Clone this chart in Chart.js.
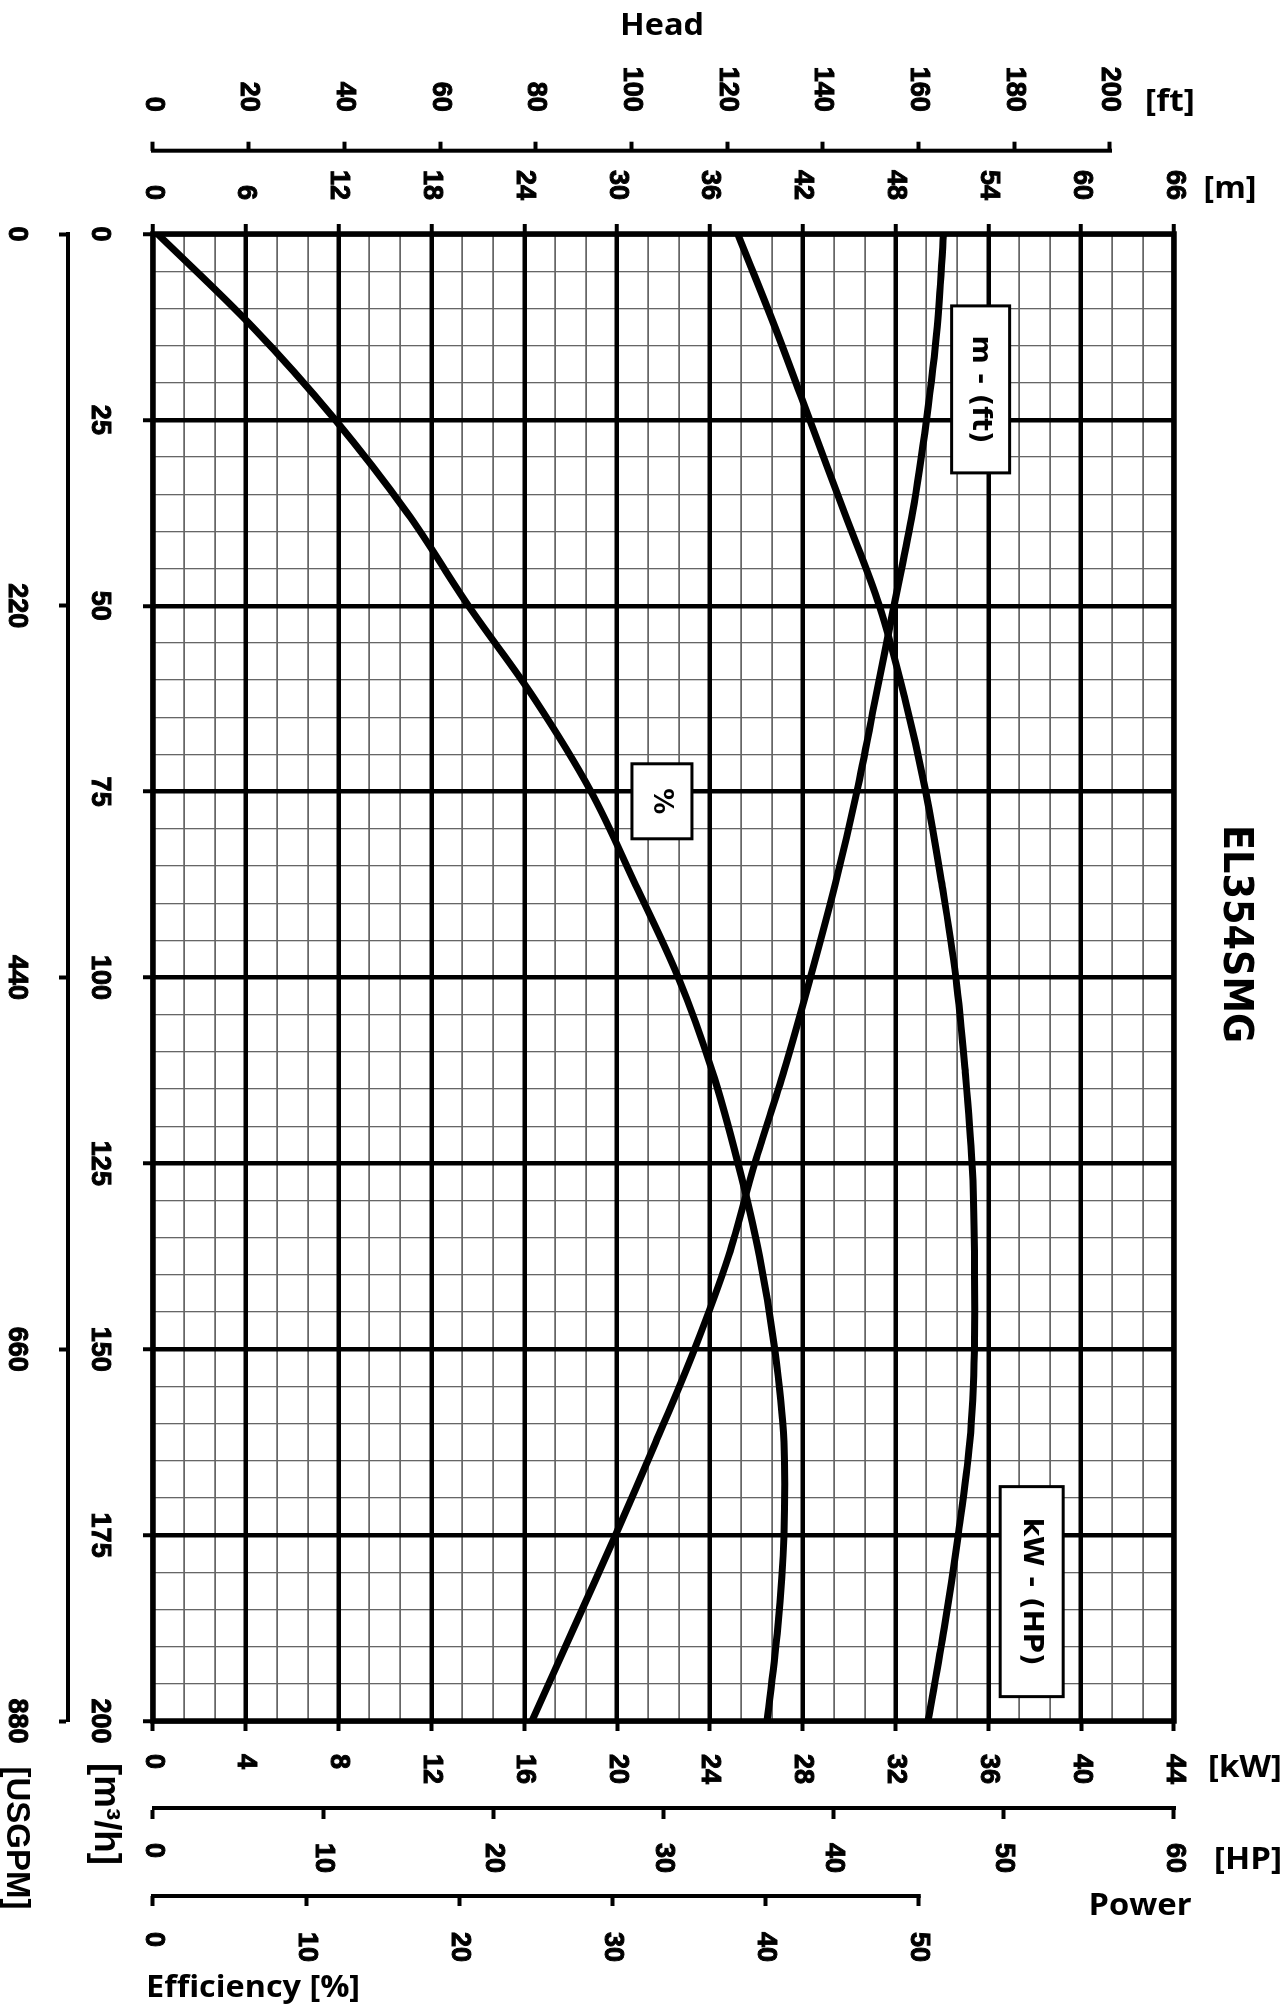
<!DOCTYPE html>
<html>
<head>
<meta charset="utf-8">
<title>EL354SMG</title>
<script src="https://cdn.jsdelivr.net/npm/chart.js@4.4.1/dist/chart.umd.min.js"></script>
<style>
    html, body { margin: 0; padding: 0; background: #fff; overflow: hidden; }
    /* The chart is drawn landscape and turned a quarter turn clockwise */
    #wrap {
        position: absolute; left: 0; top: 0;
        width: 2006px; height: 1287px;
        transform-origin: 0 0;
        transform: translate(1287px, 0) rotate(90deg);
    }
</style>
</head>
<body>
<div id="wrap"><canvas id="pumpChart" width="2006" height="1287"></canvas></div>
<script>
// Flow rate points along the curves [m3/h]
const flowRate = [0, 12.5, 25, 37.5, 50, 62.5, 75, 87.5, 100, 112.5, 125, 137.5, 150, 162.5, 175, 187.5, 200];

// Head [m] at each flow point
const headMeters = [51.1, 50.7, 50.0, 49.1, 47.9, 46.7, 45.5, 44.1, 42.5, 40.8, 38.9, 37.2, 35.0, 32.5, 29.9, 27.2, 24.5];

// Shaft power [kW] at each flow point
const powerKw = [25.2, 26.8, 28.3, 29.8, 31.3, 32.4, 33.3, 34.0, 34.6, 35.0, 35.3, 35.4, 35.4, 35.2, 34.7, 34.1, 33.4];

// Efficiency [%] at each flow point
const efficiencyPct = [0.3, 6.5, 11.9, 16.6, 20.6, 24.9, 28.6, 31.5, 34.3, 36.5, 38.2, 39.6, 40.6, 41.2, 41.2, 40.8, 40.1];

// Tick labels of every axis
const flowTicks = [0, 25, 50, 75, 100, 125, 150, 175, 200];
const usgpmTicks = [0, 220, 440, 660, 880];
const headMTicks = [0, 6, 12, 18, 24, 30, 36, 42, 48, 54, 60, 66];
const headFtTicks = [0, 20, 40, 60, 80, 100, 120, 140, 160, 180, 200];
const powerKwTicks = [0, 4, 8, 12, 16, 20, 24, 28, 32, 36, 40, 44];
const powerHpTicks = [0, 10, 20, 30, 40, 50, 60];
const efficiencyTicks = [0, 10, 20, 30, 40, 50];

// Curve name tags, placed in flow / head units
const curveTags = [
    { text: 'm - (ft)', flow: 20.9, head: 53.5, w: 167, h: 58, len: 108 },
    { text: '%', flow: 76.3, head: 32.9, w: 75, h: 60, len: 26 },
    { text: 'kW - (HP)', flow: 182.6, head: 56.8, w: 210, h: 63, len: 148 }
];

// Axis titles and units (canvas coordinates before the quarter turn), len = printed length
const titleFont = 'bold 31px "Open Sans", sans-serif';
const axisTexts = [
    { text: 'Head', x: 26, y: 625, len: 84, turned: true },
    { text: '[ft]', x: 102, y: 117, len: 50, turned: true },
    { text: '[m]', x: 189, y: 57, len: 53, turned: true },
    { text: '[kW]', x: 1768, y: 42, len: 74, turned: true },
    { text: '[HP]', x: 1860, y: 39, len: 68, turned: true },
    { text: 'Power', x: 1906, y: 147, len: 103, turned: true },
    { text: 'Efficiency [%]', x: 1988, y: 1034, len: 214, turned: true },
    { text: '[m³/h]', x: 1814, y: 1182, len: 102, font: 'bold 36px "Liberation Sans", Arial, sans-serif' },
    { text: '[USGPM]', x: 1838, y: 1271, len: 143, font: 'bold 33px "Liberation Sans", Arial, sans-serif' },
    { text: 'EL354SMG', x: 934, y: 53, len: 218, font: 'bold 40px "DejaVu Sans", sans-serif' }
];

const tickFont = { family: '"Liberation Sans", Arial, sans-serif', size: 27, weight: 'bold' };

// Build a list of {x, y} points for one curve
function curvePoints(values) {
    return flowRate.map((f, i) => ({ x: f, y: values[i] }));
}

// Scale whose ticks come from one of the tick arrays
function tickedScale(position, weight, min, max, ticks, size, extra) {
    const scale = {
        type: 'linear',
        position: position,
        weight: weight,
        min: min,
        max: max,
        afterBuildTicks: s => { s.ticks = ticks.map(v => ({ value: v })); },
        afterFit: s => {
            if (position === 'left' || position === 'right') s.width = size;
            else s.height = size;
        },
        border: { display: false },
        grid: { drawOnChartArea: false, tickLength: 10, tickWidth: 4, tickColor: '#000' },
        ticks: {
            font: tickFont, color: '#000', textStrokeColor: '#000', textStrokeWidth: 1,
            autoSkip: false, maxRotation: 0, crossAlign: 'near', callback: v => String(v)
        }
    };
    return Chart.helpers.merge(scale, extra || {});
}

// Scale that only draws the thin minor grid
function minorScale(position, min, max, step, width) {
    return {
        type: 'linear',
        position: position,
        weight: -1,
        min: min,
        max: max,
        afterFit: s => {
            if (position === 'left') s.width = 0;
            else s.height = 0;
        },
        border: { display: false },
        grid: { color: '#666', lineWidth: width, drawTicks: false, z: -2 },
        ticks: { display: false, stepSize: step, autoSkip: false }
    };
}

// Draw a straight vertical axis line between two pixels
function axisLine(ctx, x, from, to) {
    ctx.beginPath();
    ctx.moveTo(x, from);
    ctx.lineTo(x, to);
    ctx.stroke();
}

// Text centred at the current origin, stretched or squeezed to a printed length
function fittedText(ctx, text, len) {
    const measured = ctx.measureText(text).width;
    ctx.scale(len / measured, 1);
    ctx.fillText(text, 0, 0);
}

const pumpDecor = {
    id: 'pumpDecor',
    beforeDatasetsDraw(chart) {
        const { ctx, chartArea: a, scales } = chart;
        ctx.save();
        ctx.strokeStyle = '#000';

        // Heavy frame round the plot
        ctx.lineWidth = 5.5;
        ctx.strokeRect(a.left, a.top, a.right - a.left, a.bottom - a.top);

        // The ft and efficiency axes stop at their last tick
        ctx.lineWidth = 4;
        const ft = scales.yFt;
        axisLine(ctx, ft.right, ft.getPixelForValue(0) + 2, ft.getPixelForValue(200) - 2);
        const eff = scales.yEff;
        axisLine(ctx, eff.left, eff.getPixelForValue(0) + 2, eff.getPixelForValue(50) - 2);
        ctx.restore();
    },
    afterDatasetsDraw(chart) {
        const { ctx, scales } = chart;
        curveTags.forEach(tag => {
            const cx = scales.x.getPixelForValue(tag.flow);
            const cy = scales.yM.getPixelForValue(tag.head);
            ctx.save();
            ctx.fillStyle = '#fff';
            ctx.fillRect(cx - tag.w / 2, cy - tag.h / 2, tag.w, tag.h);
            ctx.lineWidth = 3;
            ctx.strokeStyle = '#000';
            ctx.strokeRect(cx - tag.w / 2, cy - tag.h / 2, tag.w, tag.h);
            ctx.fillStyle = '#000';
            ctx.font = 'bold 27px "DejaVu Sans", sans-serif';
            ctx.textAlign = 'center';
            ctx.textBaseline = 'middle';
            ctx.translate(cx, cy + 1);
            fittedText(ctx, tag.text, tag.len);
            ctx.restore();
        });
    },
    afterDraw(chart) {
        const ctx = chart.ctx;
        axisTexts.forEach(t => {
            ctx.save();
            ctx.fillStyle = '#000';
            ctx.textAlign = 'center';
            ctx.textBaseline = 'middle';
            ctx.font = t.font || titleFont;
            ctx.translate(t.x, t.y);
            if (t.turned) ctx.rotate(-Math.PI / 2);
            fittedText(ctx, t.text, t.len);
            ctx.restore();
        });
    }
};

function curveDataset(label, values, axisId) {
    return {
        label: label,
        data: curvePoints(values),
        yAxisID: axisId,
        showLine: true,
        borderColor: '#000',
        borderWidth: 7,
        pointRadius: 0,
        fill: false,
        tension: 0.35,
        borderCapStyle: 'round',
        borderJoinStyle: 'round'
    };
}

function createPumpChart() {
    const canvasContext = document.getElementById('pumpChart').getContext('2d');

    new Chart(canvasContext, {
        type: 'scatter',
        data: {
            datasets: [
                curveDataset('Head', headMeters, 'yM'),
                curveDataset('Power', powerKw, 'yKw'),
                curveDataset('Efficiency', efficiencyPct, 'yEff')
            ]
        },
        options: {
            responsive: false,
            devicePixelRatio: 1,
            animation: false,
            events: [],
            layout: { padding: { top: 113, left: 0, right: 0, bottom: 0 } },
            plugins: {
                legend: { display: false },
                tooltip: { enabled: false },
                title: { display: false }
            },
            scales: {
                // Flow rate, with the major grid
                x: tickedScale('bottom', 0, 0, 200, flowTicks, 85, {
                    grid: { drawOnChartArea: true, color: '#000', lineWidth: 4.5, z: -1 },
                    ticks: { padding: 27 }
                }),
                xMinor: minorScale('bottom', 0, 200, 5, 1.3),
                xUs: tickedScale('bottom', 1, 0, 880, usgpmTicks, 68, {
                    border: { display: true, color: '#000', width: 4 },
                    grid: { tickLength: 9 },
                    ticks: { padding: 26 }
                }),
                // Head in metres, with the major grid
                yM: tickedScale('left', 0, 0, 66, headMTicks, 83.3, {
                    grid: { drawOnChartArea: true, color: '#000', lineWidth: 4.5, z: -1 },
                    ticks: { padding: 24 }
                }),
                yMinor: minorScale('left', 0, 66, 2, 1.8),
                yFt: tickedScale('left', 1, 0, 213.4, headFtTicks, 150.7, {
                    grid: { tickLength: 9 },
                    ticks: { padding: 30 }
                }),
                // Power and efficiency
                yKw: tickedScale('right', 0, 0, 44, powerKwTicks, 87, {
                    ticks: { padding: 23 }
                }),
                yHp: tickedScale('right', 1, 0, 60, powerHpTicks, 88, {
                    border: { display: true, color: '#000', width: 4 },
                    grid: { tickLength: 11 },
                    ticks: { padding: 24 }
                }),
                yEff: tickedScale('right', 2, 0, 66.67, efficiencyTicks, 110, {
                    ticks: { padding: 26 }
                })
            }
        },
        plugins: [pumpDecor]
    });
}

document.addEventListener('DOMContentLoaded', createPumpChart);
</script>
</body>
</html>
